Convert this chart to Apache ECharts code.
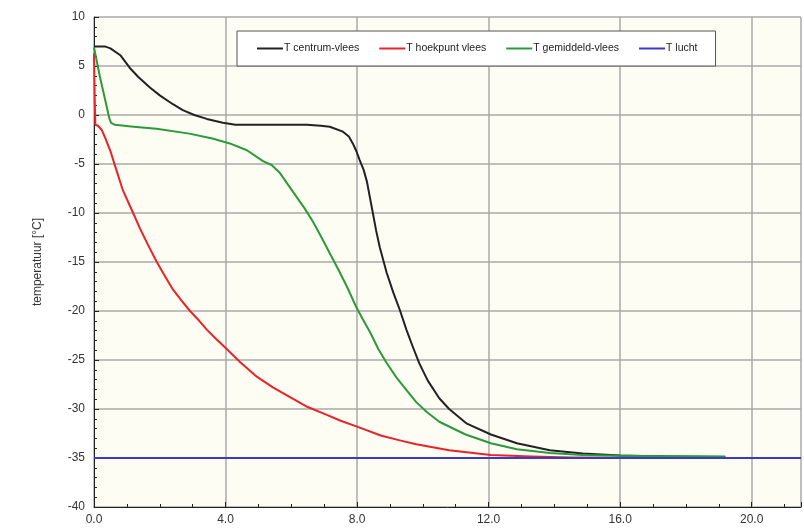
<!DOCTYPE html>
<html><head><meta charset="utf-8">
<script src="https://cdn.jsdelivr.net/npm/echarts@6/dist/echarts.min.js"></script>
<style>html,body{margin:0;padding:0;background:#fff}#c{width:804px;height:532px}</style>
</head><body><div id="c"></div>
<script>
const seriesNames = ['T centrum-vlees', 'T hoekpunt vlees', 'T gemiddeld-vlees', 'T lucht'];
const centrum = [[0,7],[0.33,7],[0.5,6.8],[0.8,6.1],[1.09,4.8],[1.34,3.9],[1.7,2.8],[2.0,2.0],[2.4,1.1],[2.7,0.5],[3.05,0.0],[3.43,-0.4],[3.92,-0.8],[4.3,-1.0],[5,-1.0],[6.47,-1.0],[6.9,-1.1],[7.17,-1.2],[7.57,-1.7],[7.75,-2.2],[7.87,-2.9],[7.98,-3.7],[8.08,-4.6],[8.2,-5.6],[8.3,-6.8],[8.39,-8.4],[8.48,-10.0],[8.58,-11.8],[8.69,-13.5],[8.9,-16.1],[9.1,-18.1],[9.3,-19.9],[9.5,-21.9],[9.7,-23.7],[9.9,-25.4],[10.15,-27.1],[10.5,-28.9],[10.8,-30.0],[11.34,-31.5],[12.07,-32.6],[12.86,-33.5],[13.86,-34.2],[14.86,-34.55],[16,-34.75],[17.5,-34.85],[19.2,-34.9]];
const hoekpunt = [[0,6.3],[0.02,2.0],[0.04,-1.0],[0.12,-1.1],[0.23,-1.5],[0.35,-2.4],[0.49,-3.6],[0.68,-5.6],[0.88,-7.7],[1.19,-10.0],[1.4,-11.6],[1.65,-13.3],[1.91,-15.0],[2.15,-16.4],[2.4,-17.8],[2.65,-18.9],[2.92,-20.0],[3.2,-21.0],[3.43,-21.9],[3.7,-22.8],[3.98,-23.7],[4.44,-25.2],[4.95,-26.7],[5.44,-27.8],[5.96,-28.8],[6.5,-29.8],[7.08,-30.6],[7.5,-31.2],[8.0,-31.8],[8.72,-32.7],[9.3,-33.2],[9.8,-33.6],[10.8,-34.2],[12.07,-34.7],[13.3,-34.85],[14.5,-34.95],[19.2,-35]];
const gemiddeld = [[0,6.9],[0.18,3.9],[0.39,0.8],[0.47,-0.4],[0.52,-0.8],[0.64,-1.0],[1.2,-1.2],[1.9,-1.4],[2.9,-1.9],[3.6,-2.4],[4.13,-2.9],[4.65,-3.6],[5.14,-4.7],[5.4,-5.1],[5.65,-5.9],[5.9,-7.1],[6.17,-8.4],[6.4,-9.5],[6.66,-10.9],[6.92,-12.5],[7.17,-14.1],[7.45,-15.9],[7.69,-17.5],[7.99,-19.7],[8.2,-21.0],[8.4,-22.2],[8.65,-23.9],[8.9,-25.3],[9.2,-26.8],[9.51,-28.1],[9.8,-29.3],[10.12,-30.3],[10.5,-31.3],[11.3,-32.6],[12.07,-33.5],[12.86,-34.1],[13.86,-34.5],[14.86,-34.7],[16.5,-34.8],[19.2,-34.85]];
const lucht = [[0,-35],[21.5,-35]];
const colors = ['#222222', '#e8232a', '#2a9a3a', '#3a3ac8'];
const xMin = 0, xMax = 21.5, xStep = 4;
const yMin = -40, yMax = 10, yStep = 5;

const chart = echarts.init(document.getElementById('c'), null, {renderer: 'canvas'});
const mk = (name, data, color) => ({
  name, type: 'line', data, showSymbol: false, symbol: 'none',
  smooth: false,
  lineStyle: {color, width: 2, join: 'round'}, itemStyle: {color}
});
chart.setOption({
  animation: false,
  textStyle: {fontFamily: 'Liberation Sans, Arial, sans-serif'},
  grid: {left: 94, right: 3, top: 17, bottom: 25, show: true, backgroundColor: '#fdfdf3', borderWidth: 0},
  legend: {
    left: 237, top: 31, orient: 'horizontal',
    backgroundColor: '#ffffff', borderColor: '#555', borderWidth: 1,
    padding: [12, 18, 12, 20], itemGap: 20, itemWidth: 26, itemHeight: 2,
    icon: 'rect',
    textStyle: {fontSize: 10.5, color: '#222', padding: [0, 0, 0, -4]},
    data: seriesNames
  },
  xAxis: {
    type: 'value', min: xMin, max: xMax, interval: xStep,
    axisLine: {show: true, onZero: false, lineStyle: {color: '#222', width: 1}},
    axisTick: {show: true, inside: true, length: 5, lineStyle: {color: '#222'}},
    minorTick: {show: true, splitNumber: 4, length: 3, lineStyle: {color: '#222'}},
    splitLine: {show: true, lineStyle: {color: '#a9a9a9', width: 1.5}},
    axisLabel: {color: '#333', fontSize: 12, margin: 7, showMaxLabel: false,
      formatter: v => (v % xStep === 0 ? v.toFixed(1) : '')}
  },
  yAxis: {
    type: 'value', min: yMin, max: yMax, interval: yStep,
    name: 'temperatuur [°C]', nameLocation: 'middle', nameGap: 50,
    nameTextStyle: {color: '#333', fontSize: 12},
    axisLine: {show: true, onZero: false, lineStyle: {color: '#222', width: 1}},
    axisTick: {show: true, inside: true, length: 5, lineStyle: {color: '#222'}},
    minorTick: {show: true, splitNumber: 5, length: 3, lineStyle: {color: '#222'}},
    splitLine: {show: true, lineStyle: {color: '#a9a9a9', width: 1.5}},
    axisLabel: {color: '#333', fontSize: 12, margin: 9}
  },
  series: [
    mk(seriesNames[0], centrum, colors[0]),
    mk(seriesNames[1], hoekpunt, colors[1]),
    mk(seriesNames[2], gemiddeld, colors[2]),
    mk(seriesNames[3], lucht, colors[3])
  ]
});
</script>
</body></html>
